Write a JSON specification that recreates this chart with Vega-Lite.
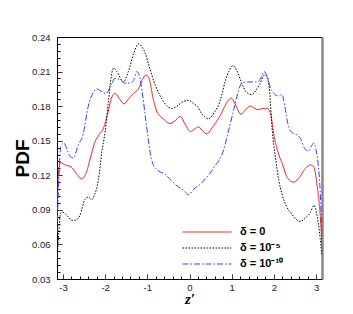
{
  "$schema": "https://vega.github.io/schema/vega-lite/v6.json",
  "width": 265,
  "height": 242,
  "autosize": {"type": "none"},
  "padding": {"left": 57, "top": 37, "right": 31, "bottom": 35},
  "background": "white",
  "datasets": {
    "pdf": [
      {"s": "δ = 0", "z": -3.1416, "p": 0.085},
      {"s": "δ = 0", "z": -3.10, "p": 0.125},
      {"s": "δ = 0", "z": -3.06, "p": 0.131},
      {"s": "δ = 0", "z": -2.95, "p": 0.129},
      {"s": "δ = 0", "z": -2.80, "p": 0.127},
      {"s": "δ = 0", "z": -2.65, "p": 0.120},
      {"s": "δ = 0", "z": -2.56, "p": 0.117},
      {"s": "δ = 0", "z": -2.45, "p": 0.122},
      {"s": "δ = 0", "z": -2.35, "p": 0.135},
      {"s": "δ = 0", "z": -2.25, "p": 0.148},
      {"s": "δ = 0", "z": -2.15, "p": 0.155},
      {"s": "δ = 0", "z": -2.05, "p": 0.160},
      {"s": "δ = 0", "z": -1.95, "p": 0.172},
      {"s": "δ = 0", "z": -1.85, "p": 0.187},
      {"s": "δ = 0", "z": -1.77, "p": 0.191},
      {"s": "δ = 0", "z": -1.65, "p": 0.186},
      {"s": "δ = 0", "z": -1.55, "p": 0.182},
      {"s": "δ = 0", "z": -1.45, "p": 0.186},
      {"s": "δ = 0", "z": -1.30, "p": 0.192},
      {"s": "δ = 0", "z": -1.21, "p": 0.195},
      {"s": "δ = 0", "z": -1.12, "p": 0.203},
      {"s": "δ = 0", "z": -1.03, "p": 0.207},
      {"s": "δ = 0", "z": -0.95, "p": 0.203},
      {"s": "δ = 0", "z": -0.87, "p": 0.188},
      {"s": "δ = 0", "z": -0.77, "p": 0.175},
      {"s": "δ = 0", "z": -0.65, "p": 0.170},
      {"s": "δ = 0", "z": -0.46, "p": 0.165},
      {"s": "δ = 0", "z": -0.35, "p": 0.167},
      {"s": "δ = 0", "z": -0.22, "p": 0.171},
      {"s": "δ = 0", "z": -0.10, "p": 0.164},
      {"s": "δ = 0", "z": 0.02, "p": 0.158},
      {"s": "δ = 0", "z": 0.12, "p": 0.160},
      {"s": "δ = 0", "z": 0.21, "p": 0.162},
      {"s": "δ = 0", "z": 0.30, "p": 0.159},
      {"s": "δ = 0", "z": 0.41, "p": 0.156},
      {"s": "δ = 0", "z": 0.55, "p": 0.162},
      {"s": "δ = 0", "z": 0.73, "p": 0.172},
      {"s": "δ = 0", "z": 0.90, "p": 0.184},
      {"s": "δ = 0", "z": 0.99, "p": 0.187},
      {"s": "δ = 0", "z": 1.08, "p": 0.182},
      {"s": "δ = 0", "z": 1.22, "p": 0.173},
      {"s": "δ = 0", "z": 1.33, "p": 0.177},
      {"s": "δ = 0", "z": 1.44, "p": 0.180},
      {"s": "δ = 0", "z": 1.55, "p": 0.178},
      {"s": "δ = 0", "z": 1.62, "p": 0.177},
      {"s": "δ = 0", "z": 1.75, "p": 0.178},
      {"s": "δ = 0", "z": 1.84, "p": 0.178},
      {"s": "δ = 0", "z": 1.92, "p": 0.174},
      {"s": "δ = 0", "z": 2.00, "p": 0.155},
      {"s": "δ = 0", "z": 2.10, "p": 0.140},
      {"s": "δ = 0", "z": 2.20, "p": 0.130},
      {"s": "δ = 0", "z": 2.32, "p": 0.118},
      {"s": "δ = 0", "z": 2.47, "p": 0.114},
      {"s": "δ = 0", "z": 2.60, "p": 0.118},
      {"s": "δ = 0", "z": 2.75, "p": 0.126},
      {"s": "δ = 0", "z": 2.88, "p": 0.129},
      {"s": "δ = 0", "z": 2.95, "p": 0.127},
      {"s": "δ = 0", "z": 3.03, "p": 0.110},
      {"s": "δ = 0", "z": 3.10, "p": 0.085},
      {"s": "δ = 0", "z": 3.1416, "p": 0.060},

      {"s": "δ = 10⁻⁵", "z": -3.1416, "p": 0.045},
      {"s": "δ = 10⁻⁵", "z": -3.10, "p": 0.070},
      {"s": "δ = 10⁻⁵", "z": -3.06, "p": 0.087},
      {"s": "δ = 10⁻⁵", "z": -3.00, "p": 0.088},
      {"s": "δ = 10⁻⁵", "z": -2.90, "p": 0.085},
      {"s": "δ = 10⁻⁵", "z": -2.79, "p": 0.081},
      {"s": "δ = 10⁻⁵", "z": -2.70, "p": 0.081},
      {"s": "δ = 10⁻⁵", "z": -2.60, "p": 0.085},
      {"s": "δ = 10⁻⁵", "z": -2.48, "p": 0.099},
      {"s": "δ = 10⁻⁵", "z": -2.40, "p": 0.101},
      {"s": "δ = 10⁻⁵", "z": -2.32, "p": 0.099},
      {"s": "δ = 10⁻⁵", "z": -2.25, "p": 0.103},
      {"s": "δ = 10⁻⁵", "z": -2.16, "p": 0.116},
      {"s": "δ = 10⁻⁵", "z": -2.08, "p": 0.140},
      {"s": "δ = 10⁻⁵", "z": -2.00, "p": 0.158},
      {"s": "δ = 10⁻⁵", "z": -1.92, "p": 0.185},
      {"s": "δ = 10⁻⁵", "z": -1.85, "p": 0.207},
      {"s": "δ = 10⁻⁵", "z": -1.80, "p": 0.213},
      {"s": "δ = 10⁻⁵", "z": -1.72, "p": 0.210},
      {"s": "δ = 10⁻⁵", "z": -1.57, "p": 0.201},
      {"s": "δ = 10⁻⁵", "z": -1.45, "p": 0.210},
      {"s": "δ = 10⁻⁵", "z": -1.32, "p": 0.226},
      {"s": "δ = 10⁻⁵", "z": -1.21, "p": 0.234},
      {"s": "δ = 10⁻⁵", "z": -1.12, "p": 0.231},
      {"s": "δ = 10⁻⁵", "z": -1.05, "p": 0.226},
      {"s": "δ = 10⁻⁵", "z": -0.95, "p": 0.214},
      {"s": "δ = 10⁻⁵", "z": -0.81, "p": 0.198},
      {"s": "δ = 10⁻⁵", "z": -0.65, "p": 0.186},
      {"s": "δ = 10⁻⁵", "z": -0.50, "p": 0.179},
      {"s": "δ = 10⁻⁵", "z": -0.42, "p": 0.178},
      {"s": "δ = 10⁻⁵", "z": -0.30, "p": 0.180},
      {"s": "δ = 10⁻⁵", "z": -0.15, "p": 0.184},
      {"s": "δ = 10⁻⁵", "z": -0.02, "p": 0.185},
      {"s": "δ = 10⁻⁵", "z": 0.10, "p": 0.182},
      {"s": "δ = 10⁻⁵", "z": 0.18, "p": 0.180},
      {"s": "δ = 10⁻⁵", "z": 0.30, "p": 0.173},
      {"s": "δ = 10⁻⁵", "z": 0.45, "p": 0.169},
      {"s": "δ = 10⁻⁵", "z": 0.58, "p": 0.174},
      {"s": "δ = 10⁻⁵", "z": 0.73, "p": 0.185},
      {"s": "δ = 10⁻⁵", "z": 0.85, "p": 0.202},
      {"s": "δ = 10⁻⁵", "z": 0.93, "p": 0.210},
      {"s": "δ = 10⁻⁵", "z": 1.03, "p": 0.215},
      {"s": "δ = 10⁻⁵", "z": 1.12, "p": 0.211},
      {"s": "δ = 10⁻⁵", "z": 1.24, "p": 0.200},
      {"s": "δ = 10⁻⁵", "z": 1.35, "p": 0.192},
      {"s": "δ = 10⁻⁵", "z": 1.48, "p": 0.190},
      {"s": "δ = 10⁻⁵", "z": 1.58, "p": 0.194},
      {"s": "δ = 10⁻⁵", "z": 1.66, "p": 0.199},
      {"s": "δ = 10⁻⁵", "z": 1.78, "p": 0.207},
      {"s": "δ = 10⁻⁵", "z": 1.83, "p": 0.206},
      {"s": "δ = 10⁻⁵", "z": 1.89, "p": 0.196},
      {"s": "δ = 10⁻⁵", "z": 1.96, "p": 0.160},
      {"s": "δ = 10⁻⁵", "z": 2.04, "p": 0.135},
      {"s": "δ = 10⁻⁵", "z": 2.12, "p": 0.115},
      {"s": "δ = 10⁻⁵", "z": 2.19, "p": 0.104},
      {"s": "δ = 10⁻⁵", "z": 2.30, "p": 0.093},
      {"s": "δ = 10⁻⁵", "z": 2.43, "p": 0.086},
      {"s": "δ = 10⁻⁵", "z": 2.55, "p": 0.081},
      {"s": "δ = 10⁻⁵", "z": 2.63, "p": 0.080},
      {"s": "δ = 10⁻⁵", "z": 2.75, "p": 0.083},
      {"s": "δ = 10⁻⁵", "z": 2.87, "p": 0.088},
      {"s": "δ = 10⁻⁵", "z": 2.95, "p": 0.094},
      {"s": "δ = 10⁻⁵", "z": 3.03, "p": 0.084},
      {"s": "δ = 10⁻⁵", "z": 3.10, "p": 0.065},
      {"s": "δ = 10⁻⁵", "z": 3.1416, "p": 0.050},

      {"s": "δ = 10⁻¹⁰", "z": -3.1416, "p": 0.070},
      {"s": "δ = 10⁻¹⁰", "z": -3.10, "p": 0.115},
      {"s": "δ = 10⁻¹⁰", "z": -3.05, "p": 0.145},
      {"s": "δ = 10⁻¹⁰", "z": -2.98, "p": 0.148},
      {"s": "δ = 10⁻¹⁰", "z": -2.90, "p": 0.142},
      {"s": "δ = 10⁻¹⁰", "z": -2.82, "p": 0.136},
      {"s": "δ = 10⁻¹⁰", "z": -2.75, "p": 0.135},
      {"s": "δ = 10⁻¹⁰", "z": -2.65, "p": 0.145},
      {"s": "δ = 10⁻¹⁰", "z": -2.52, "p": 0.156},
      {"s": "δ = 10⁻¹⁰", "z": -2.40, "p": 0.180},
      {"s": "δ = 10⁻¹⁰", "z": -2.28, "p": 0.192},
      {"s": "δ = 10⁻¹⁰", "z": -2.20, "p": 0.195},
      {"s": "δ = 10⁻¹⁰", "z": -2.10, "p": 0.193},
      {"s": "δ = 10⁻¹⁰", "z": -1.98, "p": 0.191},
      {"s": "δ = 10⁻¹⁰", "z": -1.85, "p": 0.199},
      {"s": "δ = 10⁻¹⁰", "z": -1.77, "p": 0.204},
      {"s": "δ = 10⁻¹⁰", "z": -1.65, "p": 0.203},
      {"s": "δ = 10⁻¹⁰", "z": -1.53, "p": 0.200},
      {"s": "δ = 10⁻¹⁰", "z": -1.40, "p": 0.200},
      {"s": "δ = 10⁻¹⁰", "z": -1.32, "p": 0.203},
      {"s": "δ = 10⁻¹⁰", "z": -1.25, "p": 0.210},
      {"s": "δ = 10⁻¹⁰", "z": -1.18, "p": 0.205},
      {"s": "δ = 10⁻¹⁰", "z": -1.12, "p": 0.192},
      {"s": "δ = 10⁻¹⁰", "z": -1.05, "p": 0.172},
      {"s": "δ = 10⁻¹⁰", "z": -0.98, "p": 0.152},
      {"s": "δ = 10⁻¹⁰", "z": -0.93, "p": 0.139},
      {"s": "δ = 10⁻¹⁰", "z": -0.87, "p": 0.130},
      {"s": "δ = 10⁻¹⁰", "z": -0.80, "p": 0.126},
      {"s": "δ = 10⁻¹⁰", "z": -0.70, "p": 0.123},
      {"s": "δ = 10⁻¹⁰", "z": -0.58, "p": 0.121},
      {"s": "δ = 10⁻¹⁰", "z": -0.45, "p": 0.116},
      {"s": "δ = 10⁻¹⁰", "z": -0.30, "p": 0.111},
      {"s": "δ = 10⁻¹⁰", "z": -0.14, "p": 0.107},
      {"s": "δ = 10⁻¹⁰", "z": -0.02, "p": 0.103},
      {"s": "δ = 10⁻¹⁰", "z": 0.10, "p": 0.108},
      {"s": "δ = 10⁻¹⁰", "z": 0.25, "p": 0.112},
      {"s": "δ = 10⁻¹⁰", "z": 0.40, "p": 0.118},
      {"s": "δ = 10⁻¹⁰", "z": 0.49, "p": 0.122},
      {"s": "δ = 10⁻¹⁰", "z": 0.60, "p": 0.128},
      {"s": "δ = 10⁻¹⁰", "z": 0.70, "p": 0.133},
      {"s": "δ = 10⁻¹⁰", "z": 0.81, "p": 0.142},
      {"s": "δ = 10⁻¹⁰", "z": 0.90, "p": 0.155},
      {"s": "δ = 10⁻¹⁰", "z": 1.05, "p": 0.177},
      {"s": "δ = 10⁻¹⁰", "z": 1.15, "p": 0.192},
      {"s": "δ = 10⁻¹⁰", "z": 1.24, "p": 0.200},
      {"s": "δ = 10⁻¹⁰", "z": 1.35, "p": 0.201},
      {"s": "δ = 10⁻¹⁰", "z": 1.50, "p": 0.201},
      {"s": "δ = 10⁻¹⁰", "z": 1.62, "p": 0.201},
      {"s": "δ = 10⁻¹⁰", "z": 1.71, "p": 0.206},
      {"s": "δ = 10⁻¹⁰", "z": 1.77, "p": 0.210},
      {"s": "δ = 10⁻¹⁰", "z": 1.84, "p": 0.206},
      {"s": "δ = 10⁻¹⁰", "z": 1.92, "p": 0.196},
      {"s": "δ = 10⁻¹⁰", "z": 2.00, "p": 0.191},
      {"s": "δ = 10⁻¹⁰", "z": 2.08, "p": 0.189},
      {"s": "δ = 10⁻¹⁰", "z": 2.19, "p": 0.190},
      {"s": "δ = 10⁻¹⁰", "z": 2.26, "p": 0.180},
      {"s": "δ = 10⁻¹⁰", "z": 2.33, "p": 0.165},
      {"s": "δ = 10⁻¹⁰", "z": 2.43, "p": 0.157},
      {"s": "δ = 10⁻¹⁰", "z": 2.55, "p": 0.155},
      {"s": "δ = 10⁻¹⁰", "z": 2.63, "p": 0.152},
      {"s": "δ = 10⁻¹⁰", "z": 2.72, "p": 0.144},
      {"s": "δ = 10⁻¹⁰", "z": 2.82, "p": 0.141},
      {"s": "δ = 10⁻¹⁰", "z": 2.90, "p": 0.146},
      {"s": "δ = 10⁻¹⁰", "z": 2.95, "p": 0.148},
      {"s": "δ = 10⁻¹⁰", "z": 3.00, "p": 0.142},
      {"s": "δ = 10⁻¹⁰", "z": 3.05, "p": 0.130},
      {"s": "δ = 10⁻¹⁰", "z": 3.10, "p": 0.105},
      {"s": "δ = 10⁻¹⁰", "z": 3.1416, "p": 0.065}
    ]
  },
  "data": {"name": "pdf"},
  "layer": [
    {
      "mark": {"type": "line", "strokeWidth": 1, "interpolate": "monotone", "clip": true},
      "encoding": {
        "x": {
          "field": "z", "type": "quantitative",
          "scale": {"domain": [-3.14159, 3.14159], "nice": false, "zero": false},
          "axis": {
            "title": "z′",
            "titleFont": "Liberation Serif",
            "titleFontSize": 15,
            "titleFontStyle": "italic",
            "titleFontWeight": "bold",
            "titleBaseline": "alphabetic",
            "titleY": 24,
            "values": [-3, -2.8, -2.6, -2.4, -2.2, -2, -1.8, -1.6, -1.4, -1.2, -1, -0.8, -0.6, -0.4, -0.2, 0, 0.2, 0.4, 0.6, 0.8, 1, 1.2, 1.4, 1.6, 1.8, 2, 2.2, 2.4, 2.6, 2.8, 3],
            "tickCount": 100,
            "labelExpr": "abs(datum.value - round(datum.value)) < 0.01 ? '' + round(datum.value) : ''",
            "labelOverlap": false,
            "labelBound": false,
            "tickSize": -5,
            "tickDash": {"condition": {"test": "abs(datum.value - round(datum.value)) < 0.01", "value": [1, 0]}, "value": [3, 20]},
            "labelPadding": 8
          }
        },
        "y": {
          "field": "p", "type": "quantitative",
          "scale": {"domain": [0.03, 0.24], "nice": false, "zero": false},
          "axis": {
            "title": "PDF",
            "titleFontSize": 19,
            "titleFontWeight": "bold",
            "titleBaseline": "alphabetic",
            "titleX": -29,
            "titleY": 121,
            "titleAngle": 270,
            "titleAlign": "center",
            "values": [0.03, 0.036, 0.042, 0.048, 0.054, 0.06, 0.066, 0.072, 0.078, 0.084, 0.09, 0.096, 0.102, 0.108, 0.114, 0.12, 0.126, 0.132, 0.138, 0.144, 0.15, 0.156, 0.162, 0.168, 0.174, 0.18, 0.186, 0.192, 0.198, 0.204, 0.21, 0.216, 0.222, 0.228, 0.234, 0.24],
            "tickCount": 100,
            "labelExpr": "abs(datum.value*100/3 - round(datum.value*100/3)) < 0.01 ? format(datum.value, '.2f') : ''",
            "labelOverlap": false,
            "labelBound": false,
            "tickSize": -5,
            "tickDash": {"condition": {"test": "abs(datum.value*100/3 - round(datum.value*100/3)) < 0.01", "value": [1, 0]}, "value": [3, 20]},
            "labelPadding": 12
          }
        },
        "color": {
          "field": "s", "type": "nominal",
          "scale": {"domain": ["δ = 0", "δ = 10⁻⁵", "δ = 10⁻¹⁰"], "range": ["#ee1111", "#000000", "#3a3aff"]},
          "legend": {"title": null}
        },
        "strokeDash": {
          "field": "s", "type": "nominal",
          "scale": {"domain": ["δ = 0", "δ = 10⁻⁵", "δ = 10⁻¹⁰"], "range": [[1, 0], [1.5, 1.5], [6, 2, 1.5, 2]]},
          "legend": {"title": null}
        }
      }
    },
    {
      "mark": {"type": "line", "opacity": 0},
      "encoding": {
        "x": {"field": "z", "type": "quantitative"},
        "y": {
          "field": "p", "type": "quantitative",
          "axis": {"orient": "right", "title": null, "labels": false, "ticks": false, "domainColor": "#888888", "domainWidth": 2.5}
        }
      }
    }
  ],
  "resolve": {"axis": {"y": "independent"}},
  "config": {
    "view": {"stroke": "black", "strokeWidth": 1},
    "axis": {
      "grid": false,
      "domainColor": "black",
      "domainWidth": 1,
      "tickColor": "black",
      "tickWidth": 1,
      "labelFont": "Liberation Sans",
      "labelFontSize": 9.5,
      "labelColor": "#222222",
      "labelOverlap": false,
      "labelFlush": false,
      "titleFont": "Liberation Sans",
      "titleColor": "black"
    },
    "legend": {
      "orient": "none",
      "legendX": 125,
      "legendY": 189,
      "padding": 0,
      "symbolType": "stroke",
      "symbolSize": 2401,
      "symbolStrokeWidth": 1,
      "clipHeight": 12,
      "labelFont": "Liberation Sans",
      "labelFontSize": 11,
      "labelFontWeight": "bold",
      "labelColor": "black",
      "labelOffset": 8,
      "rowPadding": 4
    }
  }
}
